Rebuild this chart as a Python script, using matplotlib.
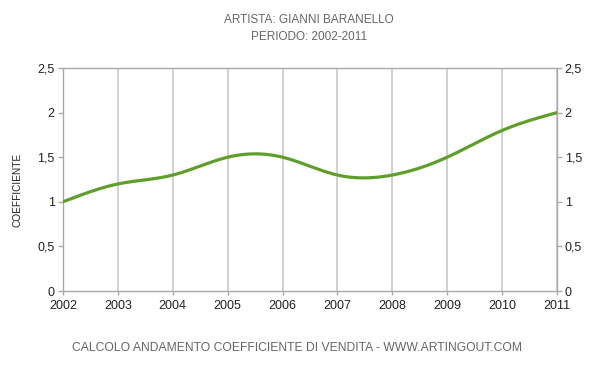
import numpy as np
import matplotlib
matplotlib.use("Agg")
import matplotlib.pyplot as plt

years = [2002, 2003, 2004, 2005, 2006, 2007, 2008, 2009, 2010, 2011]
coeff = [1.0, 1.2, 1.3, 1.5, 1.5, 1.3, 1.3, 1.5, 1.8, 2.0]
yticks = [0, 0.5, 1, 1.5, 2, 2.5]
ytick_labels = ["0", "0,5", "1", "1,5", "2", "2,5"]

def natural_spline(x, y, xs):
    x = np.asarray(x, float); y = np.asarray(y, float)
    n = len(x)
    h = np.diff(x)
    A = np.zeros((n, n)); b = np.zeros(n)
    A[0, 0] = 1; A[-1, -1] = 1
    for i in range(1, n - 1):
        A[i, i - 1] = h[i - 1]; A[i, i] = 2 * (h[i - 1] + h[i]); A[i, i + 1] = h[i]
        b[i] = 3 * ((y[i + 1] - y[i]) / h[i] - (y[i] - y[i - 1]) / h[i - 1])
    c = np.linalg.solve(A, b)
    out = np.empty_like(xs)
    for k, xv in enumerate(xs):
        i = min(max(np.searchsorted(x, xv) - 1, 0), n - 2)
        dx = xv - x[i]
        bi = (y[i + 1] - y[i]) / h[i] - h[i] * (2 * c[i] + c[i + 1]) / 3
        di = (c[i + 1] - c[i]) / (3 * h[i])
        out[k] = y[i] + bi * dx + c[i] * dx ** 2 + di * dx ** 3
    return out

plt.rcParams['font.family'] = ['Liberation Sans', 'DejaVu Sans']
fig = plt.figure(figsize=(5.95, 3.7), dpi=100)
ax = fig.add_axes([63 / 595, 1 - 291 / 370, (557 - 63) / 595, (291 - 68) / 370])
ax2 = ax.twinx()

xs = np.linspace(years[0], years[-1], 400)
ax.plot(xs, natural_spline(years, coeff, xs), color="#5e9f2c", lw=2.3, solid_capstyle="round", zorder=3)

ax.set_xlim(years[0], years[-1])
ax.set_xticks(years, labels=[str(y) for y in years])
for a in (ax, ax2):
    a.set_ylim(0, 2.5)
    a.set_yticks(yticks, labels=ytick_labels)
ax.grid(axis="x", color="#c8c8c8", lw=1.2)
for s in ax.spines.values():
    s.set_color("#aaaaaa"); s.set_linewidth(1)
for s in ax2.spines.values():
    s.set_visible(False)
ax.tick_params(axis="x", colors="#aaaaaa", labelcolor="#222222", labelsize=9, length=3.2, width=1, pad=3)
ax.tick_params(axis="y", colors="#aaaaaa", labelcolor="#222222", labelsize=9, length=3.5, width=1, pad=2.5)
ax2.tick_params(axis="y", colors="#aaaaaa", labelcolor="#222222", labelsize=9, length=3.5, width=1, pad=2)

fig.text(309 / 595, 1 - 20 / 370, "ARTISTA: GIANNI BARANELLO", ha="center", va="center", fontsize=8.5, color="#666666")
fig.text(309 / 595, 1 - 37 / 370, "PERIODO: 2002-2011", ha="center", va="center", fontsize=8.5, color="#666666")
fig.text(18 / 595, 1 - 190 / 370, "COEFFICIENTE", rotation=90, ha="center", va="center", fontsize=7.3, color="#222222")
fig.text(297.5 / 595, 1 - 348 / 370, "CALCOLO ANDAMENTO COEFFICIENTE DI VENDITA - WWW.ARTINGOUT.COM", ha="center", va="center", fontsize=8.7, color="#666666")

fig.savefig("out.png", dpi=100, facecolor="white")
